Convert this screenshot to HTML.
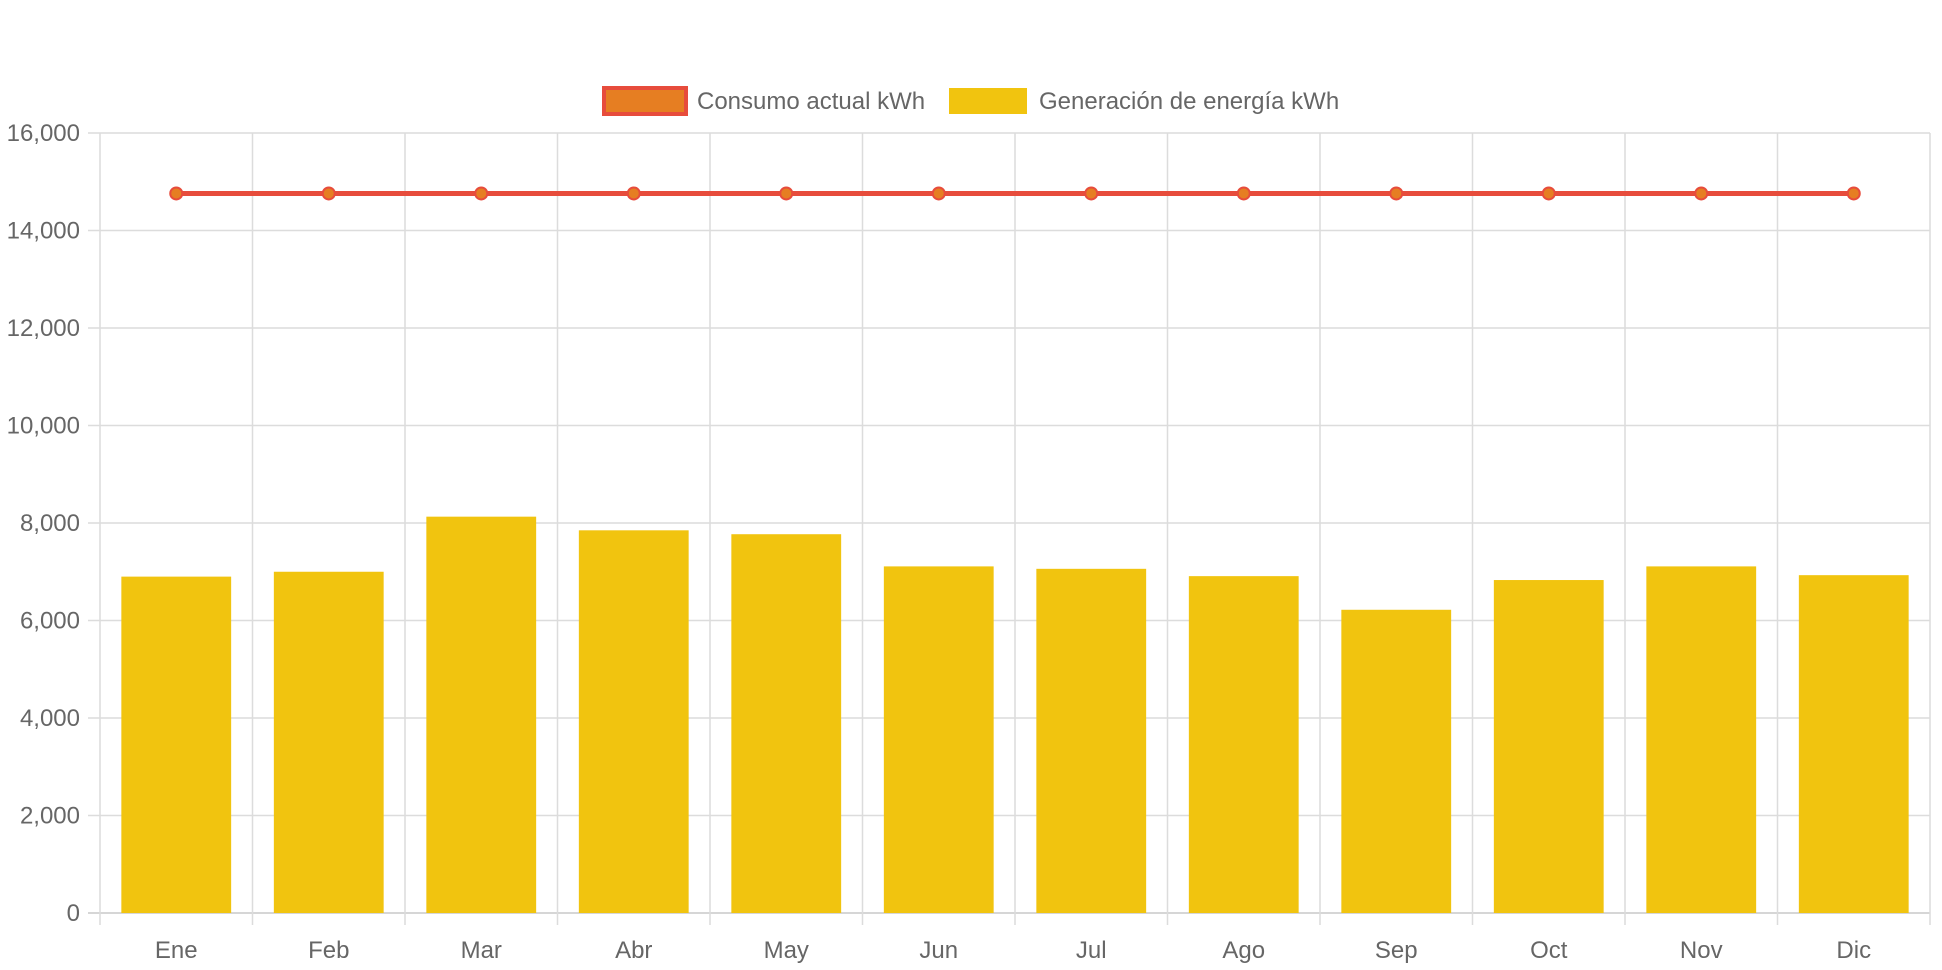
<!DOCTYPE html>
<html><head><meta charset="utf-8"><style>
html,body{margin:0;padding:0;background:#fff;}
svg{display:block;font-family:"Liberation Sans",Arial,sans-serif;}
</style></head><body>
<svg id="chart" width="1942" height="970" viewBox="0 0 1942 970" xmlns="http://www.w3.org/2000/svg">
<g id="legend">
  <g>
    <rect x="604" y="88" width="82" height="26" fill="#e67e22" stroke="#e74c3c" stroke-width="4"/>
    <text x="697" y="109" font-size="24" fill="#666">Consumo actual kWh</text>
  </g>
  <g>
    <rect x="949" y="88" width="78" height="26" fill="#f1c40f"/>
    <text x="1039" y="109" font-size="24" fill="#666">Generación de energía kWh</text>
  </g>
</g>
<g id="grid"></g>
<g id="bars"></g>
<g id="line"></g>
<g id="labels"></g>
</svg>
<script>
const categories = ["Ene","Feb","Mar","Abr","May","Jun","Jul","Ago","Sep","Oct","Nov","Dic"];
const generation = [6900,7000,8130,7850,7770,7110,7060,6910,6220,6830,7110,6930];
const consumption = [14760,14760,14760,14760,14760,14760,14760,14760,14760,14760,14760,14760];
const yTicks = [0,2000,4000,6000,8000,10000,12000,14000,16000];

const NS="http://www.w3.org/2000/svg";
const L=100,R=1930,T=133,B=913,YMAX=16000;
const cw=(R-L)/categories.length;
const xC=i=>L+cw*(i+0.5);
const y=v=>B-(v/YMAX)*(B-T);
function mk(tag,attrs,parent){const e=document.createElementNS(NS,tag);for(const k in attrs)e.setAttribute(k,attrs[k]);parent.appendChild(e);return e;}
const grid=document.getElementById('grid'),bars=document.getElementById('bars'),line=document.getElementById('line'),labels=document.getElementById('labels');

yTicks.forEach(t=>{
  const g=mk('line',{x1:L-12,x2:R,y1:y(t),y2:y(t),stroke:t===0?'#c8c8c8':'#dcdcdc','stroke-width':1.5},grid);
  
  
  const tx=mk('text',{x:L-20,y:y(t)+8,'text-anchor':'end','font-size':24,fill:'#666'},labels);
  tx.textContent=t.toLocaleString('en-US');
  
  
});
for(let i=0;i<=categories.length;i++){
  const x=L+cw*i;
  const g=mk('line',{x1:x,x2:x,y1:T,y2:B+12,stroke:'#dcdcdc','stroke-width':1.5},grid);
  
  
}
categories.forEach((c,i)=>{
  const bw=cw*0.72;
  const r=mk('rect',{x:xC(i)-bw/2,y:y(generation[i]),width:bw,height:B-y(generation[i]),fill:'#f1c40f'},bars);
  
  
  const tx=mk('text',{x:xC(i),y:958,'text-anchor':'middle','font-size':24,fill:'#666'},labels);
  tx.textContent=c;
  
  
});
const pts=consumption.map((v,i)=>xC(i)+','+y(v)).join(' ');
const pl=mk('polyline',{points:pts,fill:'none',stroke:'#e74c3c','stroke-width':5},line);


consumption.forEach((v,i)=>{
  const p=mk('circle',{cx:xC(i),cy:y(v),r:6,fill:'#e67e22',stroke:'#e74c3c','stroke-width':2},line);
  
  
});
</script>
</body></html>
